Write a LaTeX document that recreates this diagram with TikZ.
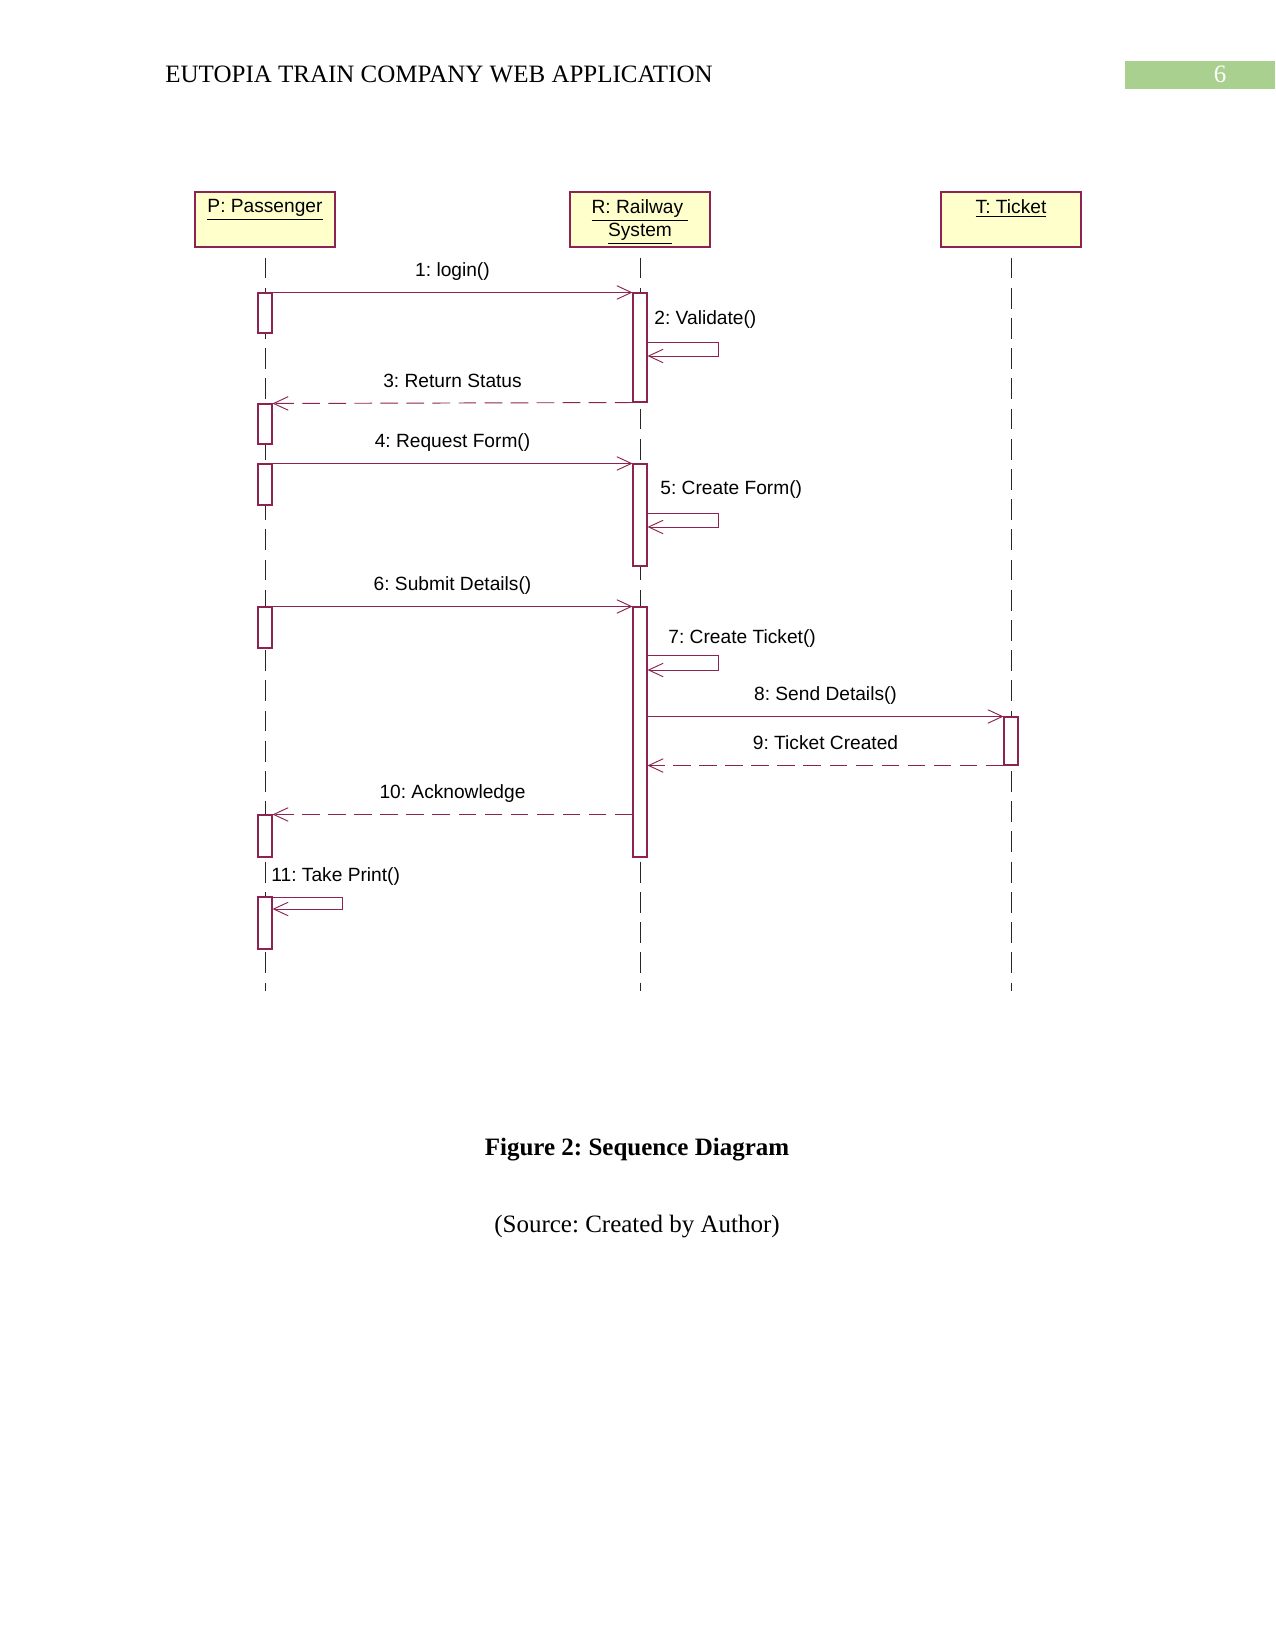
\documentclass[tikz,border=0pt]{standalone}
\usepackage{fontspec}
\setmainfont{Liberation Serif}
\newfontfamily\diagfont{Liberation Sans}
\usetikzlibrary{arrows.meta}
\definecolor{umlline}{RGB}{140,35,80}
\definecolor{umlfill}{RGB}{255,255,204}
\definecolor{pagegreen}{RGB}{169,208,142}
\frenchspacing
\begin{document}
\frenchspacing
\begin{tikzpicture}[x=0.48pt,y=-0.48pt,
 objbox/.style={draw=umlline, fill=umlfill, line width=0.5pt, minimum width=67.2pt, minimum height=26.4pt, inner sep=0pt},
 objlbl/.style={font=\diagfont\fontsize{9.2}{11}\selectfont, align=center, anchor=north, inner sep=0pt},
 lifeline/.style={draw=black!85, line width=0.4pt, dash pattern=on 10pt off 4.5pt},
 act/.style={draw=umlline, fill=white, line width=0.5pt, minimum width=6.72pt, inner sep=0pt},
 msg/.style={draw=umlline, line width=0.45pt, -{Straight Barb[length=7pt,width=6.5pt]}},
 reply/.style={msg, dash pattern=on 8.5pt off 4pt},
 mlbl/.style={font=\diagfont\fontsize{9.2}{11}\selectfont, inner sep=0pt},
 page/.style={font=\fontsize{12}{14}\selectfont, inner sep=0pt},
]
\path[use as bounding box] (0,0) rectangle (1275,1650);

% header
\node[page, anchor=base west] (hdr) at (165,83) {EUTOPIA TRAIN COMPANY WEB APPLICATION};
\node[fill=pagegreen, minimum width=72pt, minimum height=13.44pt, inner sep=0pt, anchor=north west] (pg) at (1125,61) {};
\node[page, anchor=base, text=white] (pgnum) at (1220,83) {6};

% objects
\node[objbox] (P) at (265,219.5) {};
\node[objbox] (R) at (640,219.5) {};
\node[objbox] (T) at (1011,219.5) {};
\node[objlbl] (Pl) at (265,199) {\underline{P: Passenger}};
\node[objlbl] (Rl) at (640,199) {\underline{R: Railway\ }\\\underline{System}};
\node[objlbl] (Tl) at (1011,199) {\underline{T: Ticket}};

% lifelines
\coordinate (Pend) at (265,991);
\coordinate (Rend) at (640,991);
\coordinate (Tend) at (1011,991);
\draw[lifeline] ([yshift=-4.8pt]P.south) -- (Pend);
\draw[lifeline] ([yshift=-4.8pt]R.south) -- (Rend);
\draw[lifeline] ([yshift=-4.8pt]T.south) -- (Tend);

% activations
\node[act, minimum height=19.2pt] (a1) at (265,313) {};
\node[act, minimum height=19.2pt] (a2) at (265,424) {};
\node[act, minimum height=19.68pt] (a3) at (265,484.5) {};
\node[act, minimum height=19.68pt] (a4) at (265,627.5) {};
\node[act, minimum height=20.16pt] (a5) at (265,836) {};
\node[act, minimum height=24.96pt] (a6) at (265,923) {};
\node[act, minimum height=52.32pt] (r1) at (640,347.5) {};
\node[act, minimum height=48.96pt] (r2) at (640,515) {};
\node[act, minimum height=120pt] (r3) at (640,732) {};
\node[act, minimum height=23.04pt] (t1) at (1011,741) {};

% messages
\draw[msg] (a1.north east) -- node[mlbl, midway, anchor=base, yshift=7.5pt] (m1) {1: login()} (r1.north west);

\coordinate (v2a) at (718,342);
\coordinate (v2b) at (718,356);
\draw[msg] (r1.east |- v2a) -- (v2a) -- (v2b) -- (r1.east |- v2b);
\node[mlbl, anchor=base west] (m2) at (654,325) {2: Validate()};

\draw[reply] (r1.south west) -- node[mlbl, midway, anchor=base, yshift=7.5pt] (m3) {3: Return Status} (a2.north east);

\draw[msg] (a3.north east) -- node[mlbl, midway, anchor=base, yshift=7.5pt] (m4) {4: Request Form()} (r2.north west);

\coordinate (v5a) at (718,513);
\coordinate (v5b) at (718,527);
\draw[msg] (r2.east |- v5a) -- (v5a) -- (v5b) -- (r2.east |- v5b);
\node[mlbl, anchor=base west] (m5) at (660,494) {5: Create Form()};

\draw[msg] (a4.north east) -- node[mlbl, midway, anchor=base, yshift=7.5pt] (m6) {6: Submit Details()} (r3.north west);

\coordinate (v7a) at (718,655);
\coordinate (v7b) at (718,670);
\draw[msg] (r3.east |- v7a) -- (v7a) -- (v7b) -- (r3.east |- v7b);
\node[mlbl, anchor=base west] (m7) at (668,643) {7: Create Ticket()};

\draw[msg] (r3.east |- t1.north) -- node[mlbl, midway, anchor=base, yshift=7.5pt] (m8) {8: Send Details()} (t1.north west);

\draw[reply] (t1.south west) -- node[mlbl, midway, anchor=base, yshift=7.5pt] (m9) {9: Ticket Created} (r3.east |- t1.south);

\draw[reply] (r3.west |- a5.north) -- node[mlbl, midway, anchor=base, yshift=7.5pt] (m10) {10: Acknowledge} (a5.north east);

\coordinate (v11a) at (342,897);
\coordinate (v11b) at (342,909);
\draw[msg] (a6.east |- v11a) -- (v11a) -- (v11b) -- (a6.east |- v11b);
\node[mlbl, anchor=base west] (m11) at (271,881) {11: Take Print()};

% caption
\node[page, anchor=base, font=\bfseries\fontsize{12}{14}\selectfont] (cap) at (637,1155) {Figure 2: Sequence Diagram};
\node[page, anchor=base] (src) at (637,1232) {(Source: Created by Author)};
\end{tikzpicture}
\end{document}
